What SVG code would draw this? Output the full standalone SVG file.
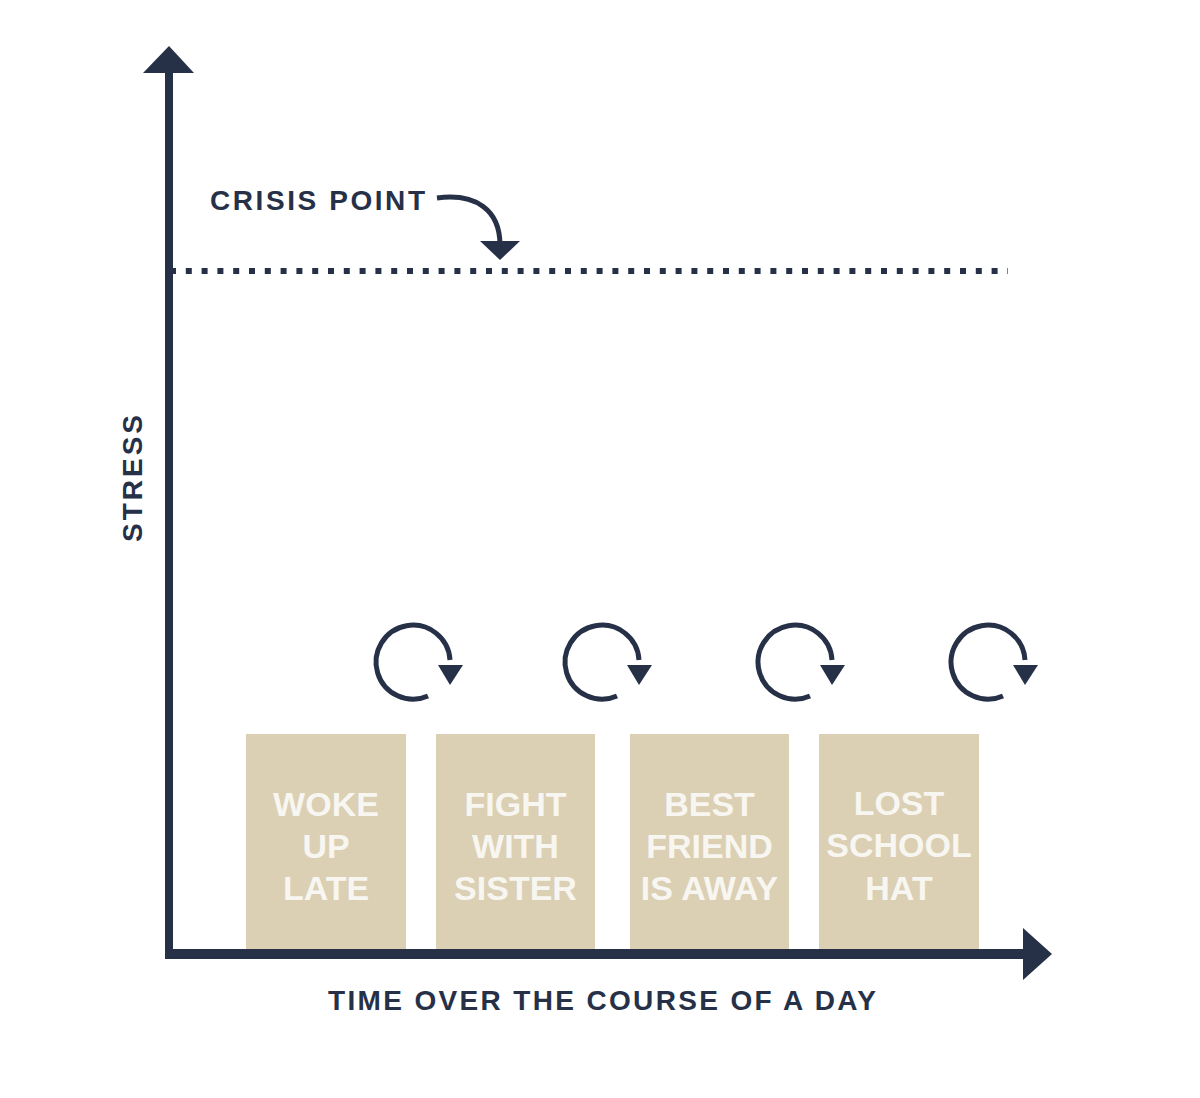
<svg xmlns="http://www.w3.org/2000/svg" width="1200" height="1098" viewBox="0 0 1200 1098">
<style>
.dark{fill:#263148}
.lbl{font-family:"Liberation Sans",Arial,sans-serif;font-weight:bold;font-size:28px;fill:#263148}
.box{fill:#DBCFB4}
.bt{font-family:"Liberation Sans",Arial,sans-serif;font-weight:bold;font-size:34px;fill:#F8F6F1;text-anchor:middle}
.cyc{fill:none;stroke:#263148;stroke-width:5}
</style>
<defs>
<g id="cycle">
<path class="cyc" d="M15,34 A37,37 0 1 1 37,-2"/>
<polygon class="dark" points="25,3 50,3 37,23"/>
</g>
</defs>
<rect width="1200" height="1098" fill="#ffffff"/>
<g id="connectors">
<rect id="y-axis" class="dark" x="165" y="70" width="8" height="889"/>
<polygon class="dark" points="143,73 194,73 169,46"/>
<rect id="x-axis" class="dark" x="165" y="949" width="860" height="10"/>
<polygon class="dark" points="1023,928 1023,980 1052,954"/>
<line id="crisis-line" x1="170" y1="271" x2="1008" y2="271" stroke="#263148" stroke-width="6" stroke-dasharray="6 9.8"/>
<path d="M437,198 C476,193 500,210 500,245" fill="none" stroke="#263148" stroke-width="5"/>
<polygon class="dark" points="480,241 520,241 500,260"/>
<use href="#cycle" x="413" y="662"/>
<use href="#cycle" x="602" y="662"/>
<use href="#cycle" x="795" y="662"/>
<use href="#cycle" x="988" y="662"/>
</g>
<g id="label-crisis">
<text class="lbl" x="210" y="210" textLength="215" lengthAdjust="spacing">CRISIS POINT</text>
</g>
<g id="label-stress">
<text class="lbl" transform="translate(142,478.5) rotate(-90)" text-anchor="middle" textLength="127" lengthAdjust="spacing">STRESS</text>
</g>
<g id="label-time">
<text class="lbl" x="328" y="1010" textLength="548" lengthAdjust="spacing">TIME OVER THE COURSE OF A DAY</text>
</g>
<g id="node-woke">
<rect class="box" x="246" y="734" width="160" height="215"/>
<text class="bt" x="326" y="816">WOKE</text>
<text class="bt" x="326" y="858">UP</text>
<text class="bt" x="326" y="900">LATE</text>
</g>
<g id="node-fight">
<rect class="box" x="436" y="734" width="159" height="215"/>
<text class="bt" x="515.5" y="816">FIGHT</text>
<text class="bt" x="515.5" y="858">WITH</text>
<text class="bt" x="515.5" y="900">SISTER</text>
</g>
<g id="node-friend">
<rect class="box" x="630" y="734" width="159" height="215"/>
<text class="bt" x="709.5" y="816">BEST</text>
<text class="bt" x="709.5" y="858">FRIEND</text>
<text class="bt" x="709.5" y="900">IS AWAY</text>
</g>
<g id="node-hat">
<rect class="box" x="819" y="734" width="160" height="215"/>
<text class="bt" x="899" y="815">LOST</text>
<text class="bt" x="899" y="857">SCHOOL</text>
<text class="bt" x="899" y="900">HAT</text>
</g>
</svg>
